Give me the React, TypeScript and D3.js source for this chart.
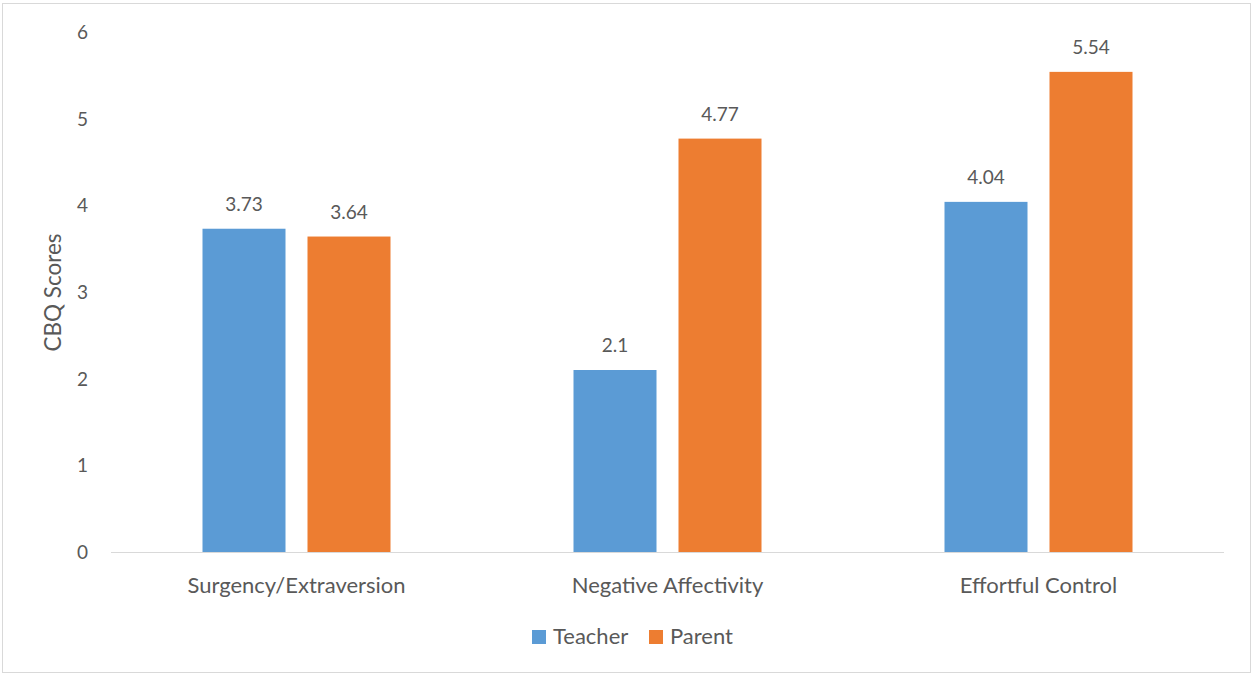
import React from "react";
import * as d3 from "d3";

const categories = ["Surgency/Extraversion", "Negative Affectivity", "Effortful Control"];
const seriesNames = ["Teacher", "Parent"];
const teacherValues = [3.73, 2.1, 4.04];
const parentValues = [3.64, 4.77, 5.54];
const yTicks = [0, 1, 2, 3, 4, 5, 6];
const colors = ["#5B9BD5", "#ED7D31"];

const W = 1253;
const H = 675;
const FONT = "Lato, 'Open Sans', sans-serif";
const TEXT = "#595959";

export default function App() {
  const left = 111, right = 1224, top = 32, bottom = 552;
  const x = d3.scaleBand<string>().domain(categories).range([left, right]).paddingInner(0).paddingOuter(0);
  const y = d3.scaleLinear().domain([0, 6]).range([bottom, top]);
  const bw = 83, gap = 22;
  const series = [teacherValues, parentValues];

  return (
    <svg width={W} height={H} style={{ position: "absolute", left: 0, top: 0, background: "#fff" }} fontFamily={FONT}>
      <rect x={2.5} y={3.5} width={W - 5} height={H - 6} fill="#fff" stroke="#D9D9D9" strokeWidth={1} />
      {yTicks.map((t) => (
        <text key={t} x={88} y={y(t) + 7} textAnchor="end" fontSize={19} fill={TEXT}>{t}</text>
      ))}
      <text transform={`translate(61, ${292.5}) rotate(-90)`} textAnchor="middle" fontSize={22.5} fill={TEXT}>CBQ Scores</text>
      {categories.map((c, i) => {
        const cx = x(c)! + x.bandwidth() / 2;
        const start = cx - (bw * 2 + gap) / 2;
        return (
          <g key={c}>
            {series.map((vals, s) => {
              const bx = start + s * (bw + gap);
              const v = vals[i];
              return (
                <g key={s}>
                  <rect x={bx} y={y(v)} width={bw} height={y(0) - y(v)} fill={colors[s]} />
                  <text x={bx + bw / 2} y={y(v) - 18} textAnchor="middle" fontSize={19} fill={TEXT}>{v}</text>
                </g>
              );
            })}
            <text x={cx} y={593} textAnchor="middle" fontSize={22} fill={TEXT}>{c}</text>
          </g>
        );
      })}
      <line x1={left} x2={right} y1={bottom + 0.5} y2={bottom + 0.5} stroke="#D9D9D9" strokeWidth={1} />
      {seriesNames.map((n, i) => {
        const lx = i === 0 ? 532 : 649;
        return (
          <g key={n}>
            <rect x={lx} y={630} width={14} height={14} fill={colors[i]} />
            <text x={lx + 21} y={644} fontSize={22} fill={TEXT}>{n}</text>
          </g>
        );
      })}
    </svg>
  );
}
